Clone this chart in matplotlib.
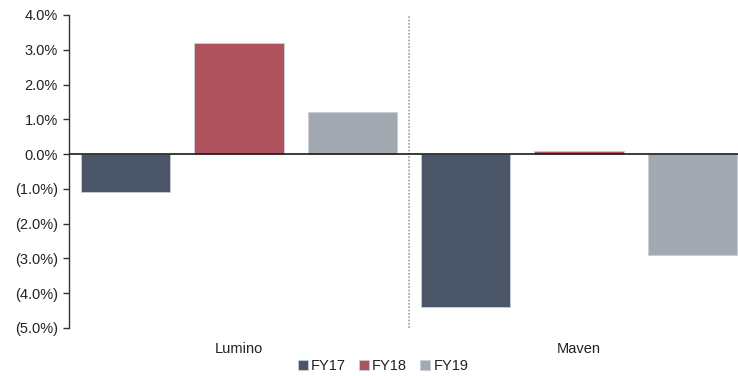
import matplotlib.pyplot as plt
import numpy as np

plt.rcParams['font.family'] = ['Liberation Sans', 'DejaVu Sans']

companies = ['Lumino', 'Maven']
years = ['FY17', 'FY18', 'FY19']
fy17 = [-1.1, -4.4]
fy18 = [3.2, 0.1]
fy19 = [1.2, -2.9]
yticks = [4, 3, 2, 1, 0, -1, -2, -3, -4, -5]

colors = ['#4a5667', '#ae535d', '#a3a9b0']

fig = plt.figure(figsize=(7.38, 3.76), dpi=100)
ax = fig.add_axes([69/738, 1 - 328/376, 680/738, 313/376])

x = np.arange(len(companies))
w = 0.262
step = 0.335
for i, (vals, name) in enumerate(zip([fy17, fy18, fy19], years)):
    ax.bar(x + (i - 1)*step, vals, width=w, color=colors[i], label=name,
           edgecolor='#c9ced6', linewidth=0.6, zorder=2)

ax.axhline(0, color='#1a1a1a', linewidth=1.2, zorder=3)
ax.axvline(0.5, color='#a0a0a0', linestyle=(0, (1, 1)), linewidth=1.2, zorder=1)

ax.set_xlim(-0.5, 1.5)
ax.set_ylim(-5, 4)

def fmt(v):
    if v < 0:
        return '({:.1f}%)'.format(-v)
    return '{:.1f}%'.format(v)

ax.set_yticks(yticks)
ax.set_yticklabels([fmt(v) for v in yticks], fontsize=10.5, color='#222222')
ax.tick_params(axis='y', direction='out', length=4, width=1, color='#333333', pad=4)
ax.set_xticks(x)
ax.set_xticklabels(companies, fontsize=10.5, color='#222222')
ax.tick_params(axis='x', length=0, pad=10)

for s in ['top', 'right', 'bottom']:
    ax.spines[s].set_visible(False)
ax.spines['left'].set_color('#333333')
ax.spines['left'].set_linewidth(1)

leg = fig.legend(loc='center', bbox_to_anchor=(383/738, 1 - 366/376), ncol=3,
                 frameon=False, fontsize=10.5, handlelength=0.7, handleheight=0.7,
                 handletextpad=0.2, columnspacing=0.9, borderpad=0)
for t in leg.get_texts():
    t.set_color('#222222')

fig.savefig('out.png', dpi=100)
